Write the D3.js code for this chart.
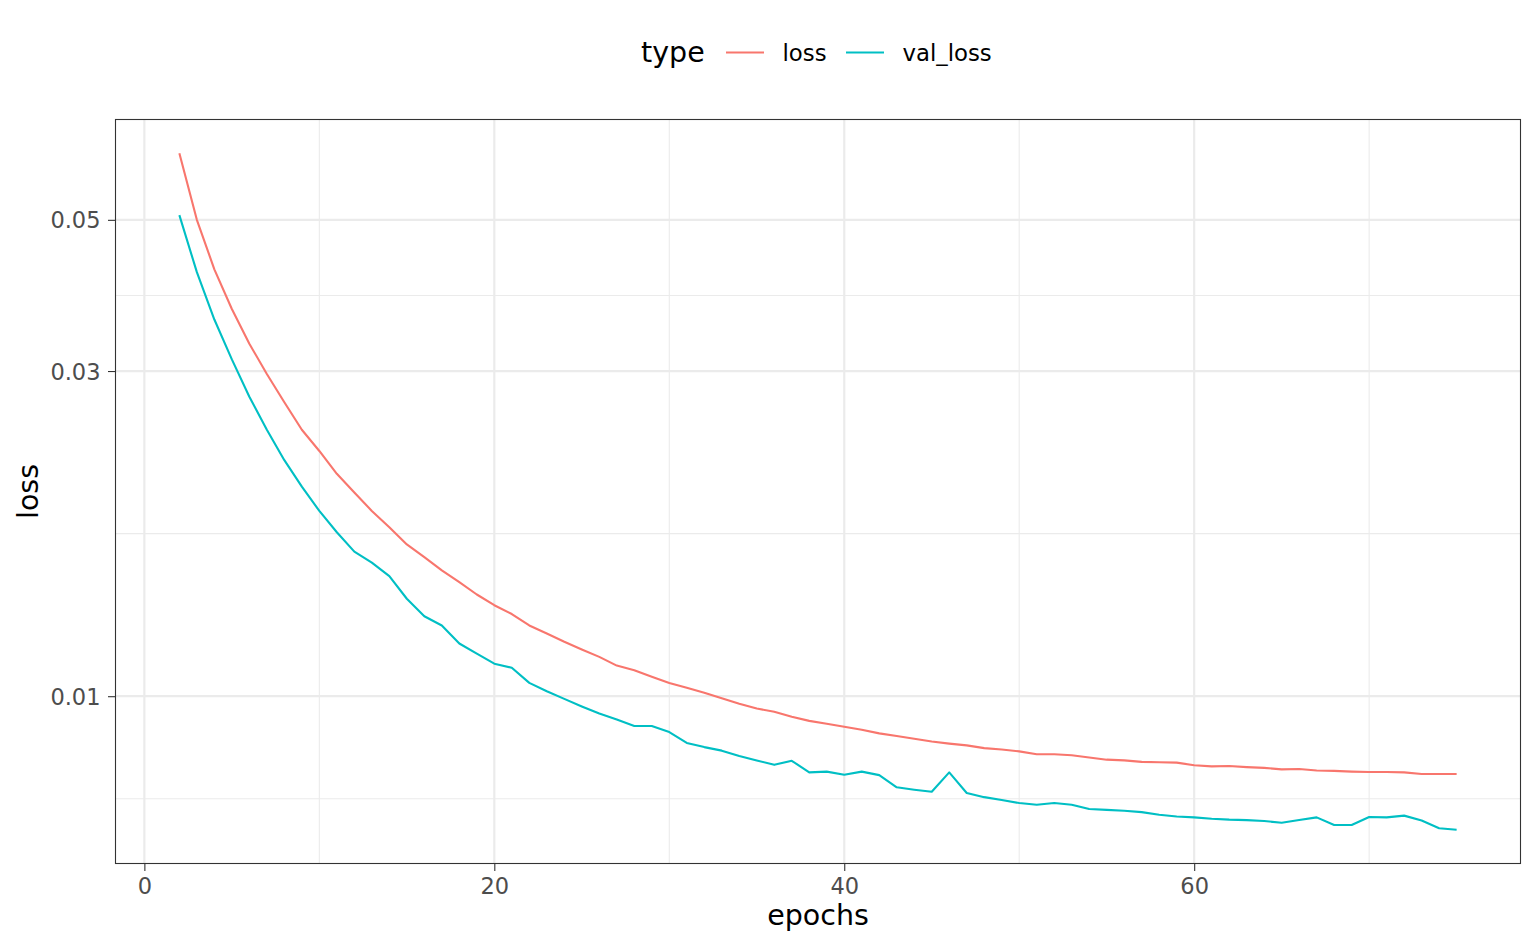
<!DOCTYPE html>
<html>
<head>
<meta charset="utf-8">
<script src="https://cdn.jsdelivr.net/npm/d3@7"></script>
<style>
  body { margin: 0; background: #fff; }
  text { font-family: "DejaVu Sans", sans-serif; }
</style>
</head>
<body>
<div id="chart"></div>
<script>
// epochs 2..75
const epochs = [2,3,4,5,6,7,8,9,10,11,12,13,14,15,16,17,18,19,20,21,22,23,24,25,26,27,28,29,30,31,32,33,34,35,36,37,38,
  39,40,41,42,43,44,45,46,47,48,49,50,51,52,53,54,55,56,57,58,59,60,61,62,63,64,65,66,67,68,69,70,71,72,73,74,75];

const loss = [0.0626,0.0500,0.0423,0.0370,0.0329,0.0297,0.0270,0.0246,0.0229,0.0212,0.0199,0.0187,0.0177,0.0167,
  0.0160,0.0153,0.0147,0.0141,0.0136,0.0132,0.0127,0.01236,0.01202,0.01171,0.01142,0.01109,0.01092,0.01068,0.01046,
  0.01029,0.01012,0.00993,0.00975,0.00959,0.00949,0.00933,0.00920,0.00911,0.00902,0.00893,0.00882,0.00874,0.00866,
  0.00858,0.00852,0.00847,0.00839,0.00835,0.00830,0.00822,0.00822,0.00819,0.00813,0.00807,0.00805,0.00801,0.00800,
  0.00799,0.00792,0.00789,0.00790,0.00787,0.00785,0.00781,0.00782,0.00778,0.00777,0.00775,0.00774,0.00774,0.00773,
  0.00769,0.00769,0.00769];

const val_loss = [0.0508,0.0419,0.0357,0.0312,0.0275,0.0246,0.0222,0.0203,0.0187,0.0174,0.0163,0.0157,0.0150,0.0139,
  0.0131,0.0127,0.01195,0.01155,0.01116,0.01101,0.01046,0.01017,0.00991,0.00966,0.00943,0.00924,0.00904,0.00904,
  0.00886,0.00854,0.00842,0.00832,0.00817,0.00805,0.00793,0.00804,0.00773,0.00775,0.00767,0.00775,0.00766,0.00735,
  0.00729,0.00724,0.00773,0.00721,0.00711,0.00704,0.00697,0.00693,0.00697,0.00693,0.00683,0.00681,0.00679,0.00676,
  0.00670,0.00666,0.00664,0.00661,0.00659,0.00658,0.00656,0.00652,0.00658,0.00664,0.00647,0.00647,0.00665,0.00664,
  0.00668,0.00657,0.00640,0.00637];

const seriesNames = ["loss", "val_loss"];
const seriesColors = ["#F8766D", "#00BFC4"];
const xTicks = [0, 20, 40, 60];
const xMinor = [10, 30, 50, 70];
const yTicks = [0.01, 0.03, 0.05];
const yMinor = [0.00707, 0.01732, 0.03873];

const width = 1536, height = 949;
const panel = {left: 115.5, right: 1520.5, top: 119.5, bottom: 863.5};

const series = seriesNames.map((name, i) => ({
  name: name,
  color: seriesColors[i],
  values: epochs.map((e, j) => ({epoch: e, value: (i === 0 ? loss : val_loss)[j]}))
}));

// ggplot-style 5% expansion
const xExt = d3.extent(epochs);
const xPad = (xExt[1] - xExt[0]) * 0.05;
const x = d3.scaleLinear()
  .domain([xExt[0] - xPad, xExt[1] + xPad])
  .range([panel.left, panel.right]);

const allVals = loss.concat(val_loss);
const lExt = d3.extent(allVals).map(Math.log10);
const lPad = (lExt[1] - lExt[0]) * 0.05;
const y = d3.scaleLog()
  .domain([Math.pow(10, lExt[0] - lPad), Math.pow(10, lExt[1] + lPad)])
  .range([panel.bottom, panel.top]);

const svg = d3.select("#chart").append("svg")
  .attr("width", width)
  .attr("height", height);

svg.append("rect").attr("width", width).attr("height", height).attr("fill", "#fff");

const grid = svg.append("g");
grid.selectAll(".ymin").data(yMinor).enter().append("line")
  .attr("x1", panel.left).attr("x2", panel.right)
  .attr("y1", d => y(d)).attr("y2", d => y(d))
  .attr("stroke", "#EBEBEB").attr("stroke-width", 1.1);
grid.selectAll(".xmin").data(xMinor).enter().append("line")
  .attr("y1", panel.top).attr("y2", panel.bottom)
  .attr("x1", d => x(d)).attr("x2", d => x(d))
  .attr("stroke", "#EBEBEB").attr("stroke-width", 1.1);
grid.selectAll(".ymaj").data(yTicks).enter().append("line")
  .attr("x1", panel.left).attr("x2", panel.right)
  .attr("y1", d => y(d)).attr("y2", d => y(d))
  .attr("stroke", "#EBEBEB").attr("stroke-width", 2.2);
grid.selectAll(".xmaj").data(xTicks).enter().append("line")
  .attr("y1", panel.top).attr("y2", panel.bottom)
  .attr("x1", d => x(d)).attr("x2", d => x(d))
  .attr("stroke", "#EBEBEB").attr("stroke-width", 2.2);

const line = d3.line()
  .x(d => x(d.epoch))
  .y(d => y(d.value));

svg.append("g").selectAll("path").data(series).enter().append("path")
  .attr("d", d => line(d.values))
  .attr("fill", "none")
  .attr("stroke", d => d.color)
  .attr("stroke-width", 2.1)
  .attr("stroke-linejoin", "round");

// panel border
svg.append("rect")
  .attr("x", panel.left).attr("y", panel.top)
  .attr("width", panel.right - panel.left).attr("height", panel.bottom - panel.top)
  .attr("fill", "none").attr("stroke", "#333333").attr("stroke-width", 1.1);

// axes
const xAxis = svg.append("g")
  .attr("transform", `translate(0,${panel.bottom})`)
  .call(d3.axisBottom(x).tickValues(xTicks).tickSize(7.5).tickPadding(2).tickFormat(d3.format("d")));
const yAxis = svg.append("g")
  .attr("transform", `translate(${panel.left},0)`)
  .call(d3.axisLeft(y).tickValues(yTicks).tickSize(7.5).tickPadding(7.5).tickFormat(d3.format(".2f")));

[xAxis, yAxis].forEach(a => {
  a.select(".domain").remove();
  a.selectAll(".tick line").attr("stroke", "#333333").attr("stroke-width", 1.1);
  a.selectAll(".tick text").attr("fill", "#4D4D4D").style("font-size", "22.5px");
});
xAxis.selectAll(".tick text").attr("dy", "0.95em");
yAxis.selectAll(".tick text").attr("dy", "0.36em");

svg.append("text")
  .attr("x", (panel.left + panel.right) / 2).attr("y", 925)
  .attr("text-anchor", "middle").style("font-size", "28.5px").attr("fill", "#000")
  .text("epochs");

svg.append("text")
  .attr("transform", `translate(38,${(panel.top + panel.bottom) / 2}) rotate(-90)`)
  .attr("text-anchor", "middle").style("font-size", "28.5px").attr("fill", "#000")
  .text("loss");

// legend
const legend = svg.append("g");
legend.append("text").attr("x", 641).attr("y", 62)
  .style("font-size", "28.5px").attr("fill", "#000").text("type");
const keyX = [726, 846];
const items = legend.selectAll(".item").data(series).enter().append("g")
  .attr("transform", (d, i) => `translate(${keyX[i]},0)`);
items.append("line")
  .attr("x1", 0).attr("x2", 38).attr("y1", 52.5).attr("y2", 52.5)
  .attr("stroke", d => d.color).attr("stroke-width", 2.1);
items.append("text")
  .attr("x", 56.5).attr("y", 61)
  .style("font-size", "22.8px").attr("fill", "#000")
  .text(d => d.name);
</script>
</body>
</html>
